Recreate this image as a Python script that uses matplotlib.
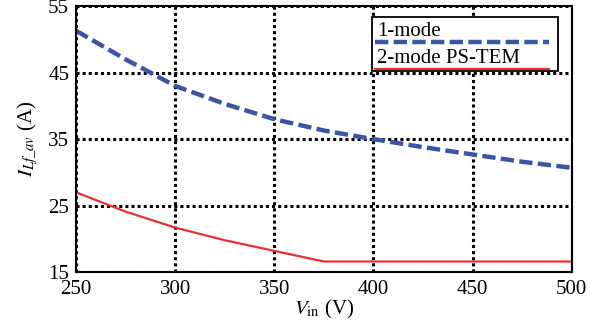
import matplotlib
matplotlib.use("Agg")
import matplotlib.pyplot as plt
import matplotlib.patches as patches

plt.rcParams['font.family'] = ['Liberation Serif', 'DejaVu Serif']
plt.rcParams['mathtext.fontset'] = 'stix'

# input voltage (V)
vin_1mode = [250, 275, 300, 325, 350, 375, 400, 425, 450, 475, 500]
# average inductor current, 1-mode (A)
i_1mode = [51.3, 47.0, 43.0, 40.3, 38.0, 36.3, 35.0, 33.8, 32.7, 31.6, 30.7]

vin_2mode = [250, 275, 300, 325, 350, 375, 400, 450, 500]
# average inductor current, 2-mode PS-TEM (A)
i_2mode = [27.0, 24.1, 21.7, 19.8, 18.2, 16.6, 16.6, 16.6, 16.6]

x_ticks = [250, 300, 350, 400, 450, 500]
y_ticks = [15, 25, 35, 45, 55]
legend_labels = ["1-mode", "2-mode PS-TEM"]

blue = '#3b55a6'
red = '#e5332f'
fs = 15
dash = (0, (3.0, 1.2))

fig = plt.figure(figsize=(5.9, 3.24), dpi=100)
ax = fig.add_axes([0.129, 0.160, 0.840, 0.821])

ax.plot(vin_1mode, i_1mode, color=blue, lw=3.2, ls=dash, zorder=3)
ax.plot(vin_2mode, i_2mode, color=red, lw=1.6, zorder=3)

ax.set_xlim(250, 500)
ax.set_ylim(15, 55)
ax.set_xticks(x_ticks)
ax.set_yticks(y_ticks)
ax.tick_params(length=0, labelsize=fs)
ax.tick_params(axis='y', pad=5)
ax.tick_params(axis='x', pad=6)
ax.grid(True, color='black', ls=(0, (1, 1)), lw=2.2)
for s in ax.spines.values():
    s.set_linewidth(1.5)
    s.set_zorder(4)

ax.set_xlabel(r"$V_{\rm in}$ (V)", fontsize=fs, labelpad=-1)
ax.set_ylabel(r"$I_{Lf\_av}$ (A)", fontsize=fs, labelpad=6)

# legend drawn by hand: label text above its line sample
box = patches.Rectangle((0.597, 0.756), 0.375, 0.203, transform=ax.transAxes,
                        facecolor='white', edgecolor='black', lw=1.3, zorder=5)
ax.add_patch(box)
ax.text(0.608, 0.888, legend_labels[0], transform=ax.transAxes, fontsize=fs,
        va='baseline', ha='left', zorder=6)
ax.plot([0.603, 0.955], [0.866, 0.866], transform=ax.transAxes, color=blue,
        lw=3.2, ls=dash, zorder=6)
ax.text(0.608, 0.787, legend_labels[1], transform=ax.transAxes, fontsize=fs,
        va='baseline', ha='left', zorder=6)
ax.plot([0.603, 0.955], [0.765, 0.765], transform=ax.transAxes, color=red,
        lw=1.6, zorder=6)

fig.savefig("out.png", dpi=100)
